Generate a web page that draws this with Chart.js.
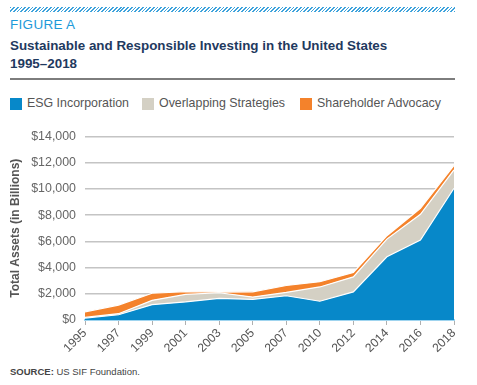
<!DOCTYPE html>
<html>
<head>
<meta charset="utf-8">
<script src="https://cdn.jsdelivr.net/npm/chart.js@4"></script>
<style>
  html, body { margin:0; padding:0; background:#fff; }
  body { width:477px; height:385px; position:relative; overflow:hidden; font-family:"Liberation Sans", Arial, sans-serif; }
  .stripe { position:absolute; left:10px; top:7px; width:445px; height:5px;
    background: repeating-linear-gradient(135deg, #3fa3dc 0 1.2px, #fff 1.2px 2.6px); }
  .fig { position:absolute; left:10px; top:17px; font-size:13.5px; color:#1d9ad9; letter-spacing:0.3px; }
  .title { position:absolute; left:10px; top:37px; font-size:13.4px; font-weight:bold; color:#1f3a5f; line-height:18px; }
  .rule { position:absolute; left:10px; top:78px; width:445px; height:2px; background:#7d7d7d; }
  .legend { position:absolute; top:96px; left:10px; font-size:12.4px; color:#555; white-space:nowrap; }
  .legend span.item { position:absolute; top:0; }
  .legend i { position:absolute; top:2px; left:0; width:12px; height:12px; }
  .legend b { position:absolute; top:0; font-weight:normal; }
  .source { position:absolute; left:10px; top:366px; font-size:9.5px; color:#444; }
  canvas { position:absolute; left:0; top:120px; }
</style>
</head>
<body>
<div class="stripe"></div>
<div class="fig">FIGURE A</div>
<div class="title">Sustainable and Responsible Investing in the United States<br>1995–2018</div>
<div class="rule"></div>
<div class="legend" id="legend"></div>
<div class="source"><b>SOURCE:</b> US SIF Foundation.</div>
<canvas id="c" width="477" height="242"></canvas>
<script>
const categories = ["1995","1997","1999","2001","2003","2005","2007","2010","2012","2014","2016","2018"];
const esgIncorporation      = [150, 400, 1170, 1380, 1650, 1570, 1850, 1430, 2140, 4820, 6100, 10050];
const overlappingStrategies = [50,  80,  330,  570,  430,  180,  250,  1090, 1150, 1350, 1960, 1400];
const shareholderAdvocacy   = [420, 660, 540,  220,  50,   400,  530,  400,  340,  260,  460,  350];
const yTicks = [0, 2000, 4000, 6000, 8000, 10000, 12000, 14000];

const seriesNames = ["ESG Incorporation", "Overlapping Strategies", "Shareholder Advocacy"];
const seriesColors = ["#0788c9", "#d4d0c4", "#f4822b"];

// legend
const legendX = [0, 132, 290];
const lg = document.getElementById('legend');
seriesNames.forEach((n, i) => {
  const s = document.createElement('span');
  s.className = 'item';
  s.style.left = legendX[i] + 'px';
  s.innerHTML = '<i style="background:' + seriesColors[i] + '"></i><b style="left:17px">' + n + '</b>';
  lg.appendChild(s);
});

const seriesData = [esgIncorporation, overlappingStrategies, shareholderAdvocacy];
new Chart(document.getElementById('c'), {
  type: 'line',
  data: {
    labels: categories,
    datasets: seriesData.map((d, i) => ({
      label: seriesNames[i],
      data: d,
      backgroundColor: seriesColors[i],
      borderColor: '#ffffff',
      borderWidth: 1.2,
      pointRadius: 0,
      fill: i === 0 ? 'origin' : '-1',
      tension: 0
    }))
  },
  options: {
    responsive: false,
    animation: false,
    events: [],
    layout: { padding: { top: 15, right: 23, left: 0, bottom: 0 } },
    plugins: { legend: { display: false }, tooltip: { enabled: false } },
    scales: {
      x: {
        offset: false,
        afterFit: s => { s.height = 42; },
        grid: { drawOnChartArea: false, drawTicks: true, tickLength: 5, color: '#b0b0b0', lineWidth: 1 },
        border: { display: true, color: '#9fd4ef', width: 2 },
        ticks: {
          minRotation: 45, maxRotation: 45, padding: 1,
          color: '#555', font: { family: '"Liberation Sans", Arial, sans-serif', size: 12.2 }
        }
      },
      y: {
        stacked: true,
        min: 0, max: 14000,
        afterFit: s => { s.width = 85; },
        afterBuildTicks: s => { s.ticks = yTicks.map(v => ({ value: v })); },
        grid: { drawTicks: false, color: '#c4c4c4', lineWidth: 1.5 },
        border: { display: false },
        title: {
          display: true, text: 'Total Assets (in Billions)', color: '#555',
          padding: { top: 8, bottom: 0 },
          font: { family: '"Liberation Sans", Arial, sans-serif', size: 12, weight: 'bold' }
        },
        ticks: {
          padding: 9, color: '#666',
          font: { family: '"Liberation Sans", Arial, sans-serif', size: 12.4 },
          callback: v => '$' + v.toLocaleString('en-US')
        }
      }
    }
  }
});
</script>
</body>
</html>
